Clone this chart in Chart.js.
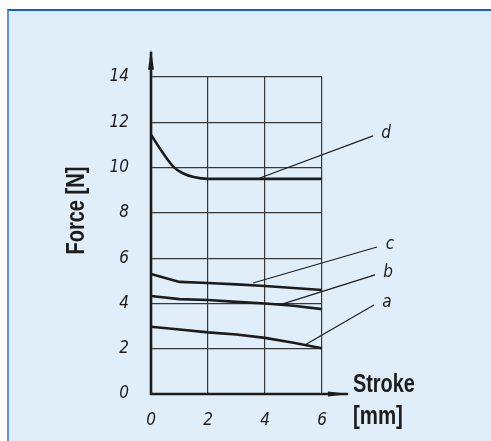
<!DOCTYPE html>
<html>
<head>
<meta charset="utf-8">
<script src="https://cdn.jsdelivr.net/npm/chart.js@4.4.1/dist/chart.umd.min.js"></script>
<style>
    html, body { margin: 0; padding: 0; background: #fff; }
    #wrap { position: relative; width: 491px; height: 441px; overflow: hidden; }
    #panel {
        position: absolute; left: 7px; top: 9px; right: 0; bottom: 0;
        background: #dfeef9;
        border-top: 2px solid #1d5fbf;
        border-left: 2px solid #5c95d5;
    }
    #forceChart { position: absolute; left: 0; top: 0; }
</style>
</head>
<body>
<div id="wrap">
    <div id="panel"></div>
    <canvas id="forceChart" width="491" height="441"></canvas>
</div>
<script>
// tick labels
const strokeTicks = [0, 2, 4, 6];
const forceTicks = [0, 2, 4, 6, 8, 10, 12, 14];

// curves, stroke [mm] -> force [N]
const strokeA = [0, 1, 2, 3, 4, 5, 6];
const forceA = [2.97, 2.85, 2.72, 2.63, 2.48, 2.26, 2.02];
const strokeB = [0, 1, 2, 3, 4, 5, 6];
const forceB = [4.33, 4.19, 4.15, 4.07, 4.0, 3.9, 3.75];
const strokeC = [0, 1, 2, 3, 4, 5, 6];
const forceC = [5.3, 4.95, 4.9, 4.84, 4.77, 4.68, 4.59];
const strokeD = [0, 0.4, 0.8, 1.1, 1.5, 2, 3, 4, 5, 6];
const forceD = [11.45, 10.68, 10.02, 9.76, 9.58, 9.5, 9.5, 9.5, 9.5, 9.5];

// callouts: label, point on curve, free end
const curveLabels = ["a", "b", "c", "d"];
const calloutFrom = [[5.4, 2.16], [4.6, 3.97], [3.58, 4.9], [3.82, 9.54]];
const calloutTo = [[7.82, 3.93], [7.86, 5.26], [7.93, 6.49], [7.79, 11.4]];

const ink = "#1c1c1c";
const tickFamily = "'DejaVu Sans Condensed', 'Liberation Sans', sans-serif";
const toPoints = (xs, ys) => xs.map((v, i) => ({ x: v, y: ys[i] }));

const curveSets = [
    [strokeA, forceA],
    [strokeB, forceB],
    [strokeC, forceC],
    [strokeD, forceD],
].map(([xs, ys], i) => ({
    label: curveLabels[i],
    data: toPoints(xs, ys),
    borderColor: ink,
    borderWidth: 2.6,
    pointRadius: 0,
    cubicInterpolationMode: i === 3 ? "monotone" : "default",
    clip: false,
}));

const calloutSets = calloutFrom.map((p, i) => ({
    label: "callout " + curveLabels[i],
    data: [{ x: p[0], y: p[1] }, { x: calloutTo[i][0], y: calloutTo[i][1] }],
    borderColor: ink,
    borderWidth: 1.1,
    pointRadius: 0,
    clip: false,
}));

// squeeze a bold title into a given width (condensed look)
function squeezedText(ctx, text, px, py, width) {
    const w = ctx.measureText(text).width;
    ctx.save();
    ctx.translate(px, py);
    ctx.scale(width / w, 1);
    ctx.fillText(text, 0, 0);
    ctx.restore();
}

// axes with arrows, axis titles and callout letters
const drawing = {
    id: "drawing",
    afterDatasetsDraw(chart) {
        const { ctx, scales: { x, y } } = chart;
        const x0 = x.getPixelForValue(0);
        const y0 = y.getPixelForValue(0);
        const yTip = y.getPixelForValue(15.2);
        const xTip = x.getPixelForValue(6.98);

        ctx.save();
        ctx.strokeStyle = ink;
        ctx.fillStyle = ink;
        ctx.lineWidth = 2.6;
        ctx.beginPath();
        ctx.moveTo(x0, y0 + 1);
        ctx.lineTo(x0, yTip + 2);
        ctx.moveTo(x0 - 1, y0);
        ctx.lineTo(xTip - 2, y0);
        ctx.stroke();

        ctx.beginPath();
        ctx.moveTo(x0, yTip);
        ctx.lineTo(x0 - 3, yTip + 20);
        ctx.lineTo(x0 + 3, yTip + 20);
        ctx.closePath();
        ctx.fill();
        ctx.beginPath();
        ctx.moveTo(xTip, y0);
        ctx.lineTo(xTip - 22, y0 - 2.5);
        ctx.lineTo(xTip - 22, y0 + 2.5);
        ctx.closePath();
        ctx.fill();

        // callout letters
        ctx.font = "italic 17px " + tickFamily;
        ctx.textAlign = "center";
        ctx.textBaseline = "middle";
        calloutTo.forEach((p, i) => {
            ctx.fillText(curveLabels[i], x.getPixelForValue(p[0]) + 13, y.getPixelForValue(p[1]) - 2);
        });

        // axis titles
        ctx.font = "bold 26px 'Liberation Sans', sans-serif";
        ctx.textAlign = "left";
        ctx.textBaseline = "alphabetic";
        squeezedText(ctx, "Stroke", xTip + 3, y0 - 2, 62);
        squeezedText(ctx, "[mm]", xTip + 3, y0 + 30, 50);

        ctx.translate(84, y.getPixelForValue(8.1));
        ctx.rotate(-Math.PI / 2);
        squeezedText(ctx, "Force [N]", -44, 0, 88);
        ctx.restore();
    },
};

document.addEventListener("DOMContentLoaded", function() {
    const ctx = document.getElementById("forceChart").getContext("2d");
    new Chart(ctx, {
        type: "line",
        data: {
            datasets: curveSets.concat(calloutSets),
        },
        options: {
            responsive: false,
            animation: false,
            layout: {
                padding: { left: 0, top: 77, right: 169, bottom: 0 },
            },
            plugins: {
                legend: { display: false },
                tooltip: { enabled: false },
            },
            scales: {
                x: {
                    type: "linear",
                    min: 0,
                    max: 6,
                    afterBuildTicks: (scale) => {
                        scale.ticks = strokeTicks.map(v => ({ value: v }));
                    },
                    afterFit: (scale) => { scale.height = 47; },
                    grid: { color: "#383838", lineWidth: 1.2, drawTicks: false },
                    border: { display: false },
                    ticks: {
                        padding: 16,
                        color: ink,
                        font: { family: tickFamily, style: "italic", size: 17 },
                    },
                },
                y: {
                    type: "linear",
                    min: 0,
                    max: 14,
                    afterBuildTicks: (scale) => {
                        scale.ticks = forceTicks.map(v => ({ value: v }));
                    },
                    afterFit: (scale) => { scale.width = 151; },
                    grid: { color: "#383838", lineWidth: 1.2, drawTicks: false },
                    border: { display: false },
                    ticks: {
                        padding: 22,
                        color: ink,
                        font: { family: tickFamily, style: "italic", size: 17 },
                    },
                },
            },
        },
        plugins: [drawing],
    });
});
</script>
</body>
</html>
